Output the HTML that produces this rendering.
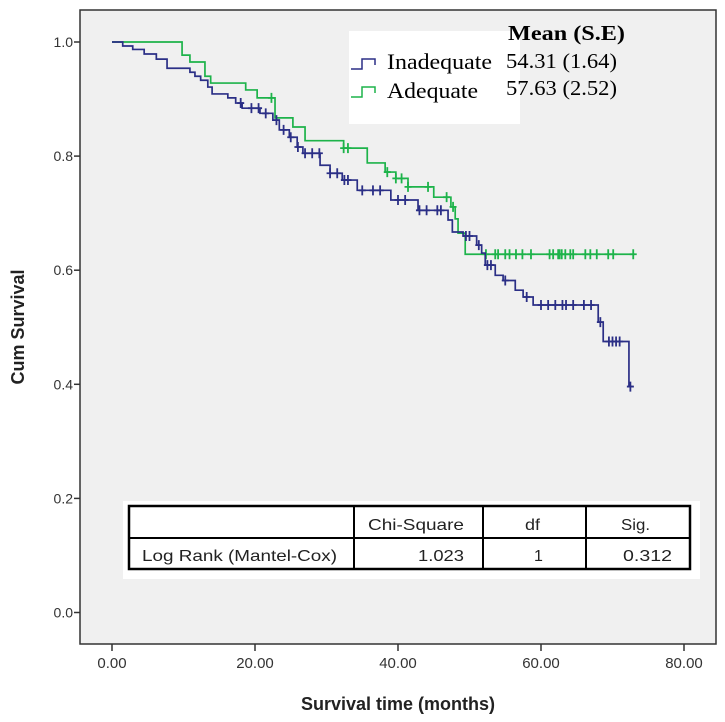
<!DOCTYPE html>
<html><head><meta charset="utf-8"><style>
body{margin:0;background:#fff;}
svg{display:block;}
</style></head><body>
<svg width="725" height="722" viewBox="0 0 725 722" xmlns="http://www.w3.org/2000/svg">
<rect x="80" y="10" width="636" height="634" fill="#f0f0f0" stroke="#333" stroke-width="1.5"/>
<g id="axes"></g>
<g id="curves"></g>
<g>
<rect x="349" y="31" width="171" height="93" fill="#fff"/>
<text x="508" y="40" font-family="Liberation Serif, serif" font-weight="bold" font-size="21" textLength="117" lengthAdjust="spacingAndGlyphs">Mean (S.E)</text>
<path d="M351 69 h11 v-10 h13 v6" fill="none" stroke="#2b2f86" stroke-width="1.5"/>
<text x="387" y="69" font-family="Liberation Serif, serif" font-size="22" textLength="105" lengthAdjust="spacingAndGlyphs">Inadequate</text>
<text x="506" y="68" font-family="Liberation Serif, serif" font-size="21" textLength="111" lengthAdjust="spacingAndGlyphs">54.31 (1.64)</text>
<path d="M351 97 h11 v-10 h13 v6" fill="none" stroke="#1db34a" stroke-width="1.5"/>
<text x="387" y="98" font-family="Liberation Serif, serif" font-size="22" textLength="91" lengthAdjust="spacingAndGlyphs">Adequate</text>
<text x="506" y="95" font-family="Liberation Serif, serif" font-size="21" textLength="111" lengthAdjust="spacingAndGlyphs">57.63 (2.52)</text>
</g>
<g font-family="Liberation Sans, sans-serif" font-size="16" fill="#222">
<rect x="123" y="501" width="577" height="78" fill="#fff"/>
<rect x="129" y="506" width="561" height="63" fill="none" stroke="#000" stroke-width="2.5"/>
<line x1="129" y1="538" x2="690" y2="538" stroke="#000" stroke-width="2"/>
<line x1="354" y1="506" x2="354" y2="569" stroke="#000" stroke-width="2"/>
<line x1="483" y1="506" x2="483" y2="569" stroke="#000" stroke-width="2"/>
<line x1="586" y1="506" x2="586" y2="569" stroke="#000" stroke-width="2"/>
<text x="368" y="530" textLength="96" lengthAdjust="spacingAndGlyphs">Chi-Square</text>
<text x="525" y="530" textLength="15" lengthAdjust="spacingAndGlyphs">df</text>
<text x="621" y="530" textLength="29" lengthAdjust="spacingAndGlyphs">Sig.</text>
<text x="142" y="561" textLength="195" lengthAdjust="spacingAndGlyphs">Log Rank (Mantel-Cox)</text>
<text x="418" y="561" textLength="46" lengthAdjust="spacingAndGlyphs">1.023</text>
<text x="534" y="561">1</text>
<text x="623" y="561" textLength="49" lengthAdjust="spacingAndGlyphs">0.312</text>
</g>
<text x="398" y="710" text-anchor="middle" font-family="Liberation Sans, sans-serif" font-weight="bold" font-size="18" fill="#222">Survival time (months)</text>
<text transform="translate(24,327) rotate(-90)" text-anchor="middle" font-family="Liberation Sans, sans-serif" font-weight="bold" font-size="18" fill="#222">Cum Survival</text>
</svg>
<script>
const xTicks=[0,20,40,60,80];
const xTickLabels=["0.00","20.00","40.00","60.00","80.00"];
const yTicks=[0,0.2,0.4,0.6,0.8,1.0];
const yTickLabels=["0.0","0.2","0.4","0.6","0.8","1.0"];
const inadTimes=[1.5,2.9,4.5,6.2,7.7,10.9,11.6,12.4,13.4,14.0,16.2,17.3,18.2,20.7,22.5,23.4,24.8,25.9,26.7,29.1,30.5,32.2,34.3,39.0,42.8,47.0,47.6,49.1,51.0,51.7,52.2,53.6,54.7,56.4,57.5,58.9,68.0,68.7,72.3];
const inadSurv=[0.993,0.987,0.979,0.970,0.954,0.947,0.94,0.933,0.921,0.909,0.902,0.893,0.884,0.875,0.863,0.846,0.833,0.816,0.805,0.784,0.770,0.758,0.740,0.723,0.705,0.688,0.667,0.66,0.644,0.630,0.609,0.591,0.582,0.565,0.553,0.539,0.509,0.475,0.396];
const inadEnd=72.8;
const inadCensor=[18,19.5,20.5,21.5,23,24,25,26,27,28,29,30.5,31.5,32.5,33,35,36.5,37.5,40,41,43,44,45.5,46,49.5,50,51.3,52.5,53,55,58,60,61,62,63,63.5,64.5,66,67,68.3,69.5,70,70.5,71,72.5];
const adqTimes=[9.8,10.9,13.0,13.8,18.7,20.3,22.8,25.3,27.0,32.4,35.7,38.2,39.7,41.4,45.0,47.4,48.0,48.4,49.4];
const adqSurv=[0.977,0.965,0.94,0.928,0.916,0.902,0.867,0.851,0.827,0.814,0.788,0.772,0.761,0.746,0.728,0.711,0.69,0.665,0.628];
const adqEnd=73.1;
const adqCensor=[22.3,32.4,33,38.5,39.7,40.5,41.4,44.2,46.8,47.7,52.3,53.6,54.0,55.0,55.6,56.5,57.4,58.6,61.2,61.7,62.4,62.6,62.9,63.4,64.1,64.5,66.2,66.9,67.8,69.4,70.1,72.9];

const NS="http://www.w3.org/2000/svg";
const X=t=>112+t*(684-112)/80;
const Y=s=>612.5-s*570.5;
function mk(tag,attrs,parent){const e=document.createElementNS(NS,tag);for(const k in attrs)e.setAttribute(k,attrs[k]);parent.appendChild(e);return e;}
const axes=document.getElementById('axes');
xTicks.forEach((v,i)=>{
  const l=mk('line',{x1:X(v),x2:X(v),y1:644,y2:651,stroke:'#333','stroke-width':1.5},axes);
  
  
  const t=mk('text',{x:X(v),y:668,'text-anchor':'middle','font-family':'Liberation Sans, sans-serif','font-size':15,fill:'#333'},axes);
  t.textContent=xTickLabels[i];
  
  
});
yTicks.forEach((v,i)=>{
  const l=mk('line',{x1:74,x2:80,y1:Y(v),y2:Y(v),stroke:'#333','stroke-width':1.5},axes);
  
  
  const t=mk('text',{x:73,y:Y(v)+5,'text-anchor':'end','font-family':'Liberation Sans, sans-serif','font-size':14,fill:'#333'},axes);
  t.textContent=yTickLabels[i];
  
  
});
function stepVal(times,surv,t){let s=1;for(let i=0;i<times.length;i++){if(times[i]<=t)s=surv[i];}return s;}
function drawCurve(times,surv,end,cens,color,name){
  const g=document.getElementById('curves');
  let d='M'+X(0)+' '+Y(1);
  times.forEach((t,i)=>{d+=' H'+X(t)+' V'+Y(surv[i]);});
  d+=' H'+X(end);
  const p=mk('path',{d:d,fill:'none',stroke:color,'stroke-width':1.7},g);
  
  
  cens.forEach(t=>{
    const cx=X(t),cy=Y(stepVal(times,surv,t));
    const c=mk('path',{d:'M'+(cx-3.5)+' '+cy+' H'+(cx+3.5)+' M'+cx+' '+(cy-5)+' V'+(cy+5),stroke:color,'stroke-width':1.8,fill:'none'},g);
    
    
  });
}
drawCurve(adqTimes,adqSurv,adqEnd,adqCensor,'#1db34a','adequate');
drawCurve(inadTimes,inadSurv,inadEnd,inadCensor,'#2b2f86','inadequate');
</script>
</body></html>
